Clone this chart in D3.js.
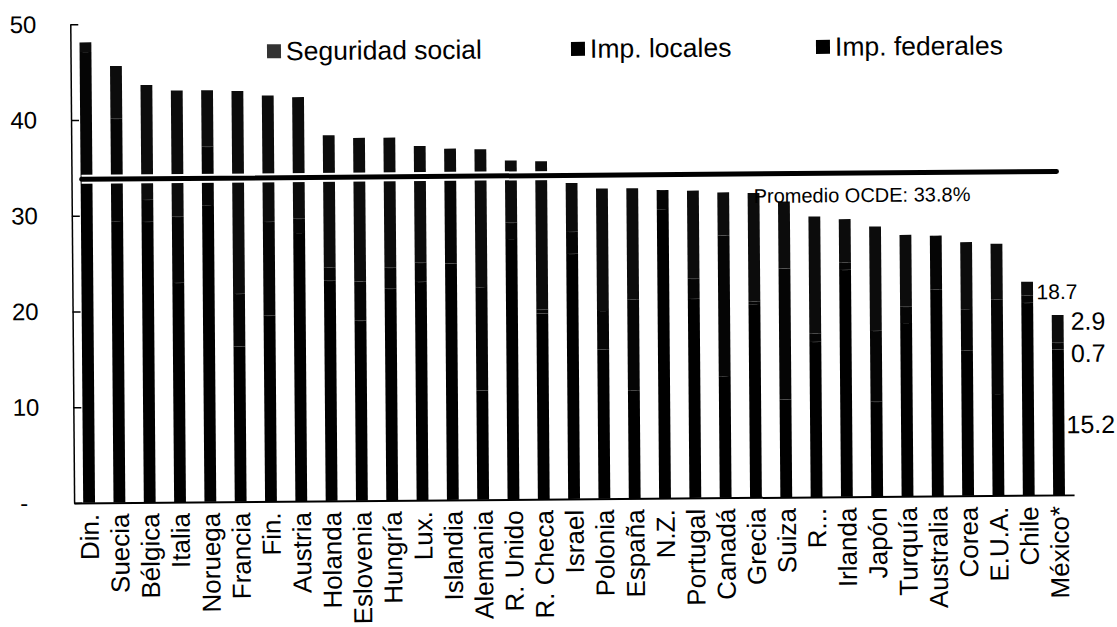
<!DOCTYPE html>
<html>
<head>
<meta charset="utf-8">
<script src="https://cdn.jsdelivr.net/npm/d3@7"></script>
<style>
  body { margin: 0; background: #fff; }
  svg text { font-family: "Liberation Sans", Arial, sans-serif; fill: #000; }
</style>
</head>
<body>
<div id="chart"></div>
<script>
// Datos: carga fiscal (% del PIB) por componente
var paises = ["Din.", "Suecia", "Bélgica", "Italia", "Noruega", "Francia", "Fin.", "Austria",
    "Holanda", "Eslovenia", "Hungría", "Lux.", "Islandia", "Alemania", "R. Unido", "R. Checa",
    "Israel", "Polonia", "España", "N.Z.", "Portugal", "Canadá", "Grecia", "Suiza", "R...",
    "Irlanda", "Japón", "Turquía", "Australia", "Corea", "E.U.A.", "Chile", "México*"];
var federales = [34.2, 29.4, 29.3, 22.9, 31.0, 16.2, 19.4, 28.0, 23.0, 18.8, 22.1, 22.8, 24.7, 11.4, 27.2, 19.4,
    25.6, 15.6, 11.3, 30.2, 20.8, 12.7, 20.2, 10.2, 16.2, 23.7, 9.9, 18.1, 21.6, 15.2, 10.6, 20.1, 15.2];
var locales = [12.9, 10.7, 2.3, 6.9, 6.1, 5.5, 9.8, 1.5, 1.4, 4.1, 2.2, 2.0, 9.3, 10.8, 1.7, 0.4,
    2.3, 4.0, 9.5, 2.0, 2.1, 14.7, 0.3, 13.7, 0.9, 0.8, 7.4, 1.7, 5.6, 4.3, 9.9, 0.8, 0.7];
var segSocial = [1.0, 5.5, 12.0, 13.2, 5.9, 21.2, 13.2, 12.7, 13.8, 15.0, 13.6, 12.2, 2.7, 14.4, 6.5, 15.5,
    5.1, 12.8, 11.6, 0.0, 9.2, 4.5, 11.3, 7.0, 12.2, 4.5, 10.9, 7.5, 0.0, 7.0, 5.8, 1.4, 2.9];
var series = ["Imp. federales", "Imp. locales", "Seguridad social"];
var leyenda = ["Seguridad social", "Imp. locales", "Imp. federales"];
var promedio = 33.8;
var yTicks = [0, 10, 20, 30, 40, 50];
var etiquetaTotal = "18.7";

var width = 1117, height = 627;
var margin = {top: 20.4, right: 45, bottom: 128, left: 72.5};

var svg = d3.select("#chart").append("svg")
        .attr("width", width)
        .attr("height", height);

// el original esta escaneado ligeramente girado
var g = svg.append("g").attr("transform", "rotate(-0.46,560,300)");

var filas = paises.map(function (p, i) {
    return {pais: p, "Imp. federales": federales[i], "Imp. locales": locales[i], "Seguridad social": segSocial[i]};
});

var x = d3.scaleBand()
        .domain(paises)
        .range([margin.left, margin.left + 1000])
        .paddingInner(0.61)
        .paddingOuter(0.3);

var y = d3.scaleLinear()
        .domain([0, 50])
        .range([499, margin.top]);

var stack = d3.stack().keys(series)(filas);

var colores = {"Imp. federales": "#000", "Imp. locales": "#050505", "Seguridad social": "#0c0c0c"};

g.selectAll("g.serie")
        .data(stack)
        .enter().append("g")
        .attr("class", "serie")
        .attr("fill", function (d) { return colores[d.key]; })
        .selectAll("rect")
        .data(function (d) { return d; })
        .enter().append("rect")
        .attr("x", function (d) { return x(d.data.pais); })
        .attr("y", function (d) { return y(d[1]); })
        .attr("width", x.bandwidth())
        .attr("height", function (d) { return y(d[0]) - y(d[1]); });

// lineas tenues entre segmentos
g.selectAll("g.serie").filter(function (d, i) { return i < 2; })
        .selectAll("line.sep")
        .data(function (d) { return d.filter(function (v) { return v[1] - v[0] > 0; }); })
        .enter().append("line")
        .attr("x1", function (d) { return x(d.data.pais) + 3; })
        .attr("x2", function (d) { return x(d.data.pais) + x.bandwidth() - 3; })
        .attr("y1", function (d) { return y(d[1]); })
        .attr("y2", function (d) { return y(d[1]); })
        .attr("stroke", "#fff")
        .attr("stroke-opacity", 0.2)
        .attr("stroke-width", 1);

// eje Y
var yAxis = d3.axisLeft(y)
        .tickValues(yTicks)
        .tickSize(-8)
        .tickSizeOuter(0)
        .tickPadding(34)
        .tickFormat(function (d) { return d === 0 ? "-" : d; });

var gy = g.append("g")
        .attr("transform", "translate(" + margin.left + ",0)")
        .call(yAxis);
gy.select(".domain").attr("stroke", "#000").attr("stroke-width", 1.5);
gy.selectAll(".tick line").attr("stroke", "#000").attr("stroke-width", 1.5);
gy.selectAll(".tick text")
        .style("font-size", "24px")
        .attr("fill", "#000")
        .attr("dx", function (d) { return d === 0 ? -12 : 0; });

// eje X
var xAxis = d3.axisBottom(x).tickSize(0).tickSizeOuter(0).tickPadding(10);
var gx = g.append("g")
        .attr("transform", "translate(0," + y(0) + ")")
        .call(xAxis);
gx.select(".domain").attr("stroke", "#000").attr("stroke-width", 2);
gx.selectAll(".tick text")
        .style("font-size", "26px")
        .attr("fill", "#000")
        .attr("text-anchor", "end")
        .attr("transform", "rotate(-90)")
        .attr("x", -11)
        .attr("y", 0)
        .attr("dy", "0.36em");

// promedio OCDE
var x1 = x(paises[0]) + 1;
var x2 = x(paises[paises.length - 1]) + x.bandwidth() / 2;
g.append("line")
        .attr("x1", x1).attr("x2", x2)
        .attr("y1", y(promedio)).attr("y2", y(promedio))
        .attr("stroke", "#fff").attr("stroke-width", 9);
g.append("line")
        .attr("x1", x1).attr("x2", x2)
        .attr("y1", y(promedio)).attr("y2", y(promedio))
        .attr("stroke", "#000").attr("stroke-width", 5)
        .attr("stroke-linecap", "round");
g.append("text")
        .attr("x", x(paises[22]) + 6)
        .attr("y", y(promedio) + 29)
        .style("font-size", "20px")
        .text("Promedio OCDE: " + promedio + "%");

// etiquetas de Mexico
var ultimo = paises.length - 1;
var xm = x(paises[ultimo]);
var fm = federales[ultimo], lm = locales[ultimo], sm = segSocial[ultimo];
g.append("text")
        .attr("x", xm - 15)
        .attr("y", y(fm + lm + sm) - 16)
        .style("font-size", "21px")
        .text(etiquetaTotal);
g.append("text")
        .attr("x", xm + x.bandwidth() + 7)
        .attr("y", y(fm + lm + sm / 2) + 1)
        .style("font-size", "25px")
        .text(sm.toFixed(1));
g.append("text")
        .attr("x", xm + x.bandwidth() + 7)
        .attr("y", y(fm + lm / 2) + 16)
        .style("font-size", "25px")
        .text(lm.toFixed(1));
g.append("text")
        .attr("x", xm + x.bandwidth() + 2)
        .attr("y", y(fm / 2) + 11)
        .style("font-size", "25px")
        .text(fm.toFixed(1));

// leyenda
var leyX = [269, 573, 818];
var leg = g.selectAll("g.ley")
        .data(leyenda)
        .enter().append("g")
        .attr("class", "ley")
        .attr("transform", function (d, i) { return "translate(" + leyX[i] + ",42)"; });
leg.append("rect")
        .attr("width", 14).attr("height", 14)
        .attr("fill", function (d) { return d === "Seguridad social" ? "#333" : "#000"; });
leg.append("text")
        .attr("x", 19)
        .attr("y", 16)
        .style("font-size", "26.5px")
        .text(function (d) { return d; });
</script>
</body>
</html>
